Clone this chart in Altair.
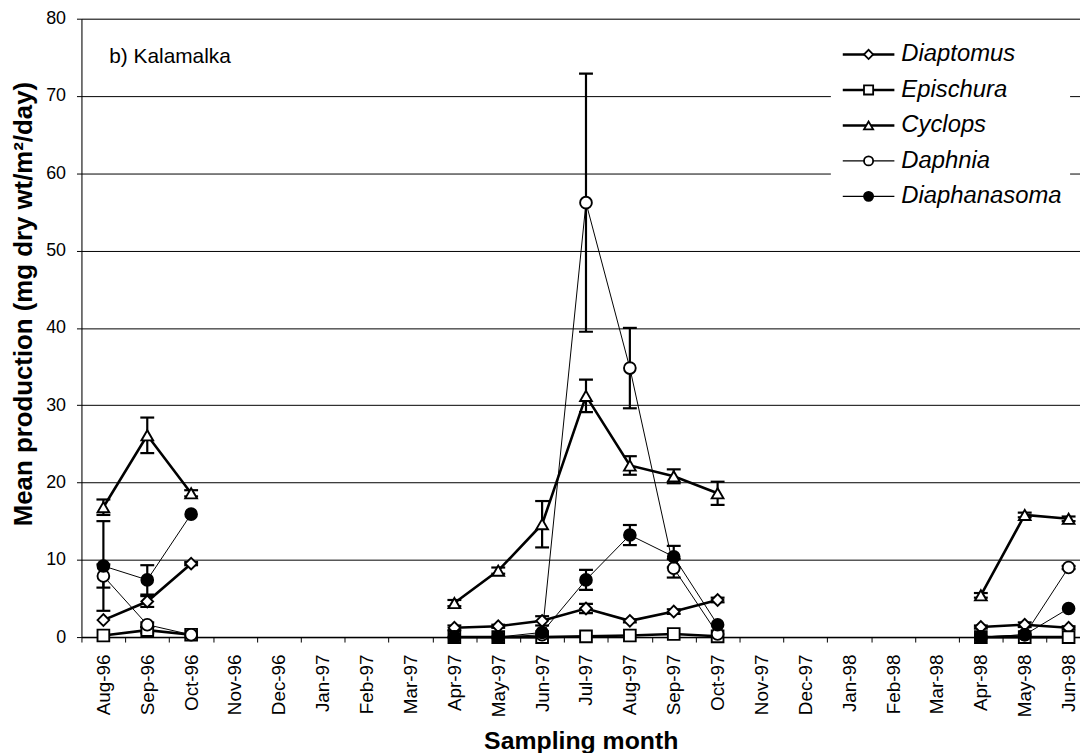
import json
import altair as alt
import pandas as pd

# ---------------- data ----------------
months = ["Aug-96", "Sep-96", "Oct-96", "Nov-96", "Dec-96", "Jan-97", "Feb-97",
          "Mar-97", "Apr-97", "May-97", "Jun-97", "Jul-97", "Aug-97", "Sep-97",
          "Oct-97", "Nov-97", "Dec-97", "Jan-98", "Feb-98", "Mar-98", "Apr-98",
          "May-98", "Jun-98"]
species = ["Diaptomus", "Epischura", "Cyclops", "Daphnia", "Diaphanasoma"]

# months that were sampled (index into months) and the field season they belong to
sampled_idx = [0, 1, 2, 8, 9, 10, 11, 12, 13, 14, 20, 21, 22]
season = [0, 0, 0, 1, 1, 1, 1, 1, 1, 1, 2, 2, 2]

diaptomus = [2.2, 4.6, 9.5, 1.2, 1.4, 2.1, 3.7, 2.1, 3.3, 4.8, 1.3, 1.6, 1.2]
diaptomus_err = [0.0, 0.7, 0.2, 0.3, 0.2, 0.6, 0.6, 0.2, 0.3, 0.3, 0.2, 0.3, 0.2]
epischura = [0.2, 0.9, 0.3, 0.0, 0.0, 0.0, 0.1, 0.2, 0.4, 0.1, 0.0, 0.0, 0.0]
epischura_err = [0.0, 0.4, 0.0, 0.0, 0.0, 0.0, 0.0, 0.0, 0.0, 0.0, 0.0, 0.0, 0.0]
cyclops = [16.8, 26.1, 18.6, 4.4, 8.6, 14.6, 31.2, 22.2, 20.8, 18.6, 5.4, 15.8, 15.3]
cyclops_err = [1.0, 2.3, 0.4, 0.4, 0.4, 3.0, 2.1, 1.2, 0.9, 1.5, 0.3, 0.3, 0.3]
daphnia = [7.9, 1.6, 0.3, 0.0, 0.0, 0.3, 56.2, 34.8, 8.9, 0.4, 0.0, 0.3, 9.0]
daphnia_err = [1.5, 0.3, 0.0, 0.0, 0.0, 0.0, 16.7, 5.2, 1.2, 0.0, 0.0, 0.0, 0.2]
diaphanasoma = [9.2, 7.4, 15.9, 0.0, 0.0, 0.6, 7.4, 13.2, 10.4, 1.6, 0.0, 0.3, 3.7]
diaphanasoma_err = [5.8, 1.9, 0.0, 0.0, 0.0, 0.0, 1.3, 1.3, 1.4, 0.0, 0.0, 0.0, 0.0]

panel_label = "b) Kalamalka"
x_title = "Sampling month"
y_title = "Mean production (mg dry wt/m²/day)"
y_ticks = [0, 10, 20, 30, 40, 50, 60, 70, 80]

series_vals = [diaptomus, epischura, cyclops, daphnia, diaphanasoma]
series_errs = [diaptomus_err, epischura_err, cyclops_err, daphnia_err, diaphanasoma_err]

rows = []
for sp, vals, errs in zip(species, series_vals, series_errs):
    for i, s, v, e in zip(sampled_idx, season, vals, errs):
        rows.append({"species": sp, "idx": i, "month": months[i], "season": s,
                     "value": v, "err": e, "lo": v - e, "hi": v + e})
df = pd.DataFrame(rows)
legend_df = pd.DataFrame({"species": species})

# ---------------- styling ----------------
FONT = "Liberation Sans"
W, H = 1006, 623
X_DOMAIN = [-0.5, 22.26]
step = W / (X_DOMAIN[1] - X_DOMAIN[0])

x_scale = alt.Scale(domain=X_DOMAIN, nice=False, zero=False)
y_scale = alt.Scale(domain=[0, 80], nice=False)
shape_scale = alt.Scale(domain=species,
                        range=["diamond", "square", "triangle-up", "circle", "circle"])
fill_scale = alt.Scale(domain=species,
                       range=["white", "white", "white", "white", "black"])

x_axis = alt.Axis(values=list(range(len(months))),
                  labelExpr=f"{json.dumps(months)}[datum.value]",
                  labelAngle=270, labelFontSize=19, labelPadding=12,
                  labelFlush=False, labelOverlap=False, labelBound=False,
                  tickSize=5, tickColor="black", tickWidth=1,
                  tickOffset=-step / 2, labelOffset=step / 2,
                  grid=False, domainColor="black", domainWidth=1.5,
                  labelColor="black", labelFont=FONT,
                  title=x_title, titleFontSize=25, titleFontWeight="bold",
                  titleColor="black", titleFont=FONT, titlePadding=12)
y_axis = alt.Axis(values=y_ticks, labelFontSize=18, labelPadding=11,
                  tickSize=5, tickColor="black", tickWidth=1,
                  grid=True, gridColor="black", gridWidth=1, gridOpacity=1,
                  domainColor="black", domainWidth=1,
                  labelColor="black", labelFont=FONT,
                  title=y_title, titleFontSize=26, titleFontWeight="bold",
                  titleColor="black", titleFont=FONT, titlePadding=9,
                  titleY=287)

X = alt.X("idx:Q", scale=x_scale, axis=x_axis)


def Y(field):
    return alt.Y(f"{field}:Q", scale=y_scale, axis=y_axis)


base = alt.Chart(df)
thick_pred = alt.FieldOneOfPredicate(field="species", oneOf=species[:3])
thin_pred = alt.FieldOneOfPredicate(field="species", oneOf=species[3:])

thick_lines = base.transform_filter(thick_pred).mark_line(
    color="black", strokeWidth=2.6).encode(
    x=X, y=Y("value"), detail=["species:N", "season:N"], order="idx:Q")

thin_lines = base.transform_filter(thin_pred).mark_line(
    color="black", strokeWidth=1).encode(
    x=X, y=Y("value"), detail=["species:N", "season:N"], order="idx:Q")

err_base = base.transform_filter("datum.err > 0")
err_rules = err_base.mark_rule(color="black", strokeWidth=2.2).encode(
    x=X, y=Y("lo"), y2="hi:Q")
err_lo = err_base.mark_tick(orient="horizontal", size=14, thickness=2.2,
                            color="black", opacity=1).encode(x=X, y=Y("lo"))
err_hi = err_base.mark_tick(orient="horizontal", size=14, thickness=2.2,
                            color="black", opacity=1).encode(x=X, y=Y("hi"))

points = base.mark_point(filled=True, size=140, stroke="black",
                         strokeWidth=1.9, opacity=1).encode(
    x=X, y=Y("value"),
    shape=alt.Shape("species:N", scale=shape_scale, legend=None),
    fill=alt.Fill("species:N", scale=fill_scale, legend=None),
)

label = alt.Chart(pd.DataFrame({"t": [panel_label]})).mark_text(
    align="left", baseline="middle", fontSize=21, font=FONT, color="black"
).encode(x=alt.value(28), y=alt.value(39), text="t:N")

main = alt.layer(thick_lines, thin_lines, err_rules, err_lo, err_hi, points, label)

# ---------------- legend (top right, white box over the grid) ----------------
LY = alt.Y("species:N", axis=None,
           scale=alt.Scale(type="point", domain=species, range=[36, 179], padding=0))
lbase = alt.Chart(legend_df)
leg_bg = alt.Chart(pd.DataFrame({"k": [0]})).mark_rect(fill="white").encode(
    x=alt.value(755), x2=alt.value(996), y=alt.value(16), y2=alt.value(200))
leg_thick = lbase.transform_filter(thick_pred).mark_rule(
    color="black", strokeWidth=2.5).encode(
    x=alt.value(767), x2=alt.value(819), y=LY)
leg_thin = lbase.transform_filter(thin_pred).mark_rule(
    color="black", strokeWidth=1.2).encode(
    x=alt.value(767), x2=alt.value(819), y=LY)
leg_pts = lbase.mark_point(filled=True, size=85, stroke="black",
                           strokeWidth=1.8, opacity=1).encode(
    x=alt.value(793), y=LY,
    shape=alt.Shape("species:N", scale=shape_scale, legend=None),
    fill=alt.Fill("species:N", scale=fill_scale, legend=None))
leg_txt = lbase.mark_text(align="left", baseline="middle", fontSize=24,
                          fontStyle="italic", font=FONT, color="black").encode(
    x=alt.value(826), y=LY, text="species:N")
legend = alt.layer(leg_bg, leg_thick, leg_thin, leg_pts, leg_txt)

chart = alt.layer(main, legend).resolve_scale(y="independent").properties(
    width=W, height=H,
    autosize=alt.AutoSizeParams(type="none"),
    padding={"left": 74, "top": 8, "right": 0, "bottom": 114},
).configure_view(stroke=None).configure(font=FONT)

chart.save("out.html", embed_options={"renderer": "svg", "actions": False})
